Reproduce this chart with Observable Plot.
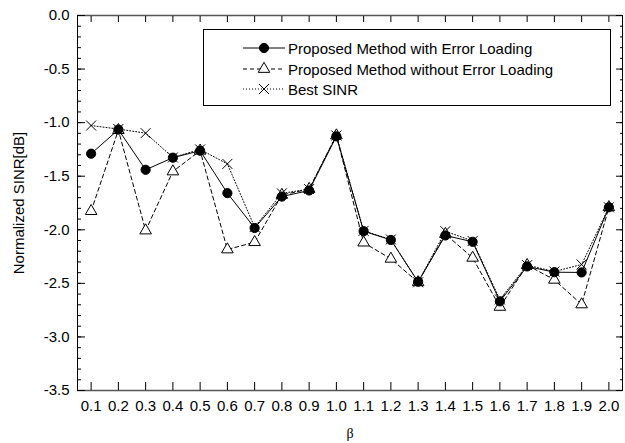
<!DOCTYPE html>
<html><head><meta charset="utf-8">
<script src="https://cdn.jsdelivr.net/npm/d3@7"></script>
<script src="https://cdn.jsdelivr.net/npm/@observablehq/plot@0.6"></script>
<style>
body{margin:0;background:#fff;font-family:"Liberation Sans",Arial,sans-serif;}
#wrap{position:relative;width:625px;height:443px;}
#legend{position:absolute;left:203px;top:29px;width:406px;height:75px;border:1.5px solid #000;background:#fff;font-size:15px;}
.row{position:absolute;left:0;height:20px;display:flex;align-items:center;}
.row svg{display:block;margin-left:38px;}
.row span{margin-left:2px;color:#000;white-space:nowrap;}
</style></head><body><div id="wrap"></div>
<script>
// ---- data ----
const beta = [0.1,0.2,0.3,0.4,0.5,0.6,0.7,0.8,0.9,1.0,1.1,1.2,1.3,1.4,1.5,1.6,1.7,1.8,1.9,2.0];
const withErrorLoading =    [-1.29,-1.065,-1.44,-1.327,-1.262,-1.658,-1.983,-1.69,-1.633,-1.128,-2.013,-2.095,-2.485,-2.053,-2.112,-2.668,-2.342,-2.396,-2.398,-1.79];
const withoutErrorLoading = [-1.826,-1.07,-2.007,-1.456,-1.262,-2.184,-2.116,-1.675,-1.62,-1.12,-2.12,-2.271,-2.49,-2.04,-2.262,-2.72,-2.33,-2.467,-2.697,-1.79];
const bestSINR =            [-1.027,-1.06,-1.098,-1.325,-1.25,-1.385,-1.975,-1.66,-1.62,-1.12,-2.01,-2.09,-2.49,-2.013,-2.105,-2.65,-2.33,-2.39,-2.324,-1.79];
const seriesNames = ["Proposed Method with Error Loading","Proposed Method without Error Loading","Best SINR"];
const xTicks = beta;
const yMajor = [0,-0.5,-1,-1.5,-2,-2.5,-3,-3.5];
const yMinor = [0,-0.1,-0.2,-0.3,-0.4,-0.5,-0.6,-0.7,-0.8,-0.9,-1,-1.1,-1.2,-1.3,-1.4,-1.5,-1.6,-1.7,-1.8,-1.9,-2,-2.1,-2.2,-2.3,-2.4,-2.5,-2.6,-2.7,-2.8,-2.9,-3,-3.1,-3.2,-3.3,-3.4,-3.5];
const xDomain = [0.05, 2.05];
const yDomain = [-3.5, 0];
const xLabel = "β";
const yLabel = "Normalized SINR[dB]";

// ---- styles ----
const styles = [
  {dash: null, symbol: "circle", fill: "#000", r: 4.6},
  {dash: "4,3", symbol: "triangle", fill: "#fff", r: 4.3},
  {dash: "1,2", symbol: "times", fill: "none", r: 4.6}
];
const seriesValues = [withErrorLoading, withoutErrorLoading, bestSINR];
const rows = seriesValues.map(vals => beta.map((b, i) => ({beta: b, v: vals[i]})));

const fmt = d => d.toFixed(1);
const blank = () => "";
const fs = 15;

const lineMarks = [2,1,0].map(k => Plot.line(rows[k], {x: "beta", y: "v", stroke: "#000", strokeWidth: 1, strokeDasharray: styles[k].dash}));
const dotMarks = [2,1,0].map(k => Plot.dot(rows[k], {x: "beta", y: "v", symbol: () => styles[k].symbol, r: styles[k].r,
  fill: styles[k].fill, stroke: "#000", strokeWidth: 1}));

const chart = Plot.plot({
  width: 625, height: 443,
  marginLeft: 77, marginRight: 3, marginTop: 15, marginBottom: 53,
  style: {fontFamily: "Liberation Sans, Arial, sans-serif", fontSize: "15px", background: "#fff", color: "#000"},
  x: {domain: xDomain, label: null},
  y: {domain: yDomain, label: null},
  symbol: {type: "identity"},
  marks: [
    Plot.frame({stroke: "#000", strokeWidth: 1}),
    Plot.ruleY([yDomain[0], yDomain[1]], {stroke: "#555", strokeWidth: 1.6}),
    Plot.axisX(xTicks, {anchor: "bottom", tickSize: -8, tickFormat: blank, label: null}),
    Plot.axisX(xTicks, {anchor: "top", tickSize: -6, tickFormat: blank, label: null}),
    Plot.axisX(xTicks, {anchor: "bottom", tickSize: 0, tickPadding: 10, tickFormat: fmt, fontSize: fs, label: null}),
    Plot.axisY(yMinor, {anchor: "left", tickSize: -4, tickFormat: blank, label: null}),
    Plot.axisY(yMajor, {anchor: "left", tickSize: -8, tickFormat: blank, label: null}),
    Plot.axisY(yMajor, {anchor: "left", tickSize: 0, tickPadding: 8, tickFormat: fmt, fontSize: fs, label: null}),
    Plot.axisY(yMinor, {anchor: "right", tickSize: -3, tickFormat: blank, label: null}),
    Plot.axisY(yMajor, {anchor: "right", tickSize: -7, tickFormat: blank, label: null}),
    ...lineMarks,
    ...dotMarks,
    Plot.text([yLabel], {frameAnchor: "left", textAnchor: "middle", lineAnchor: "middle", rotate: -90, dx: -58, fontSize: fs}),
    Plot.text([xLabel], {frameAnchor: "bottom", textAnchor: "middle", lineAnchor: "middle", dy: 43, fontSize: 14, fontFamily: "Liberation Serif, serif"})
  ]
});
const wrap = document.getElementById("wrap");
wrap.appendChild(chart);

// ---- legend (HTML overlay) ----
const legend = document.createElement("div");
legend.id = "legend";
wrap.appendChild(legend);
const rowTops = [8, 29, 49];
seriesNames.forEach((name, k) => {
  const row = document.createElement("div");
  row.className = "row";
  row.style.top = rowTops[k] + "px";
  const svg = d3.create("svg").attr("width", 44).attr("height", 14);
  svg.append("line").attr("x1", 1).attr("x2", 43).attr("y1", 7).attr("y2", 7)
    .attr("stroke", "#000").attr("stroke-width", 1).attr("stroke-dasharray", styles[k].dash);
  const sym = {circle: d3.symbolCircle, triangle: d3.symbolTriangle, times: d3.symbolTimes}[styles[k].symbol];
  svg.append("path").attr("transform", "translate(22,7)")
    .attr("d", d3.symbol(sym, Math.PI * styles[k].r * styles[k].r)())
    .attr("fill", styles[k].fill).attr("stroke", "#000").attr("stroke-width", 1);
  row.appendChild(svg.node());
  const span = document.createElement("span");
  span.textContent = name;
  row.appendChild(span);
  legend.appendChild(row);
});
</script></body></html>
